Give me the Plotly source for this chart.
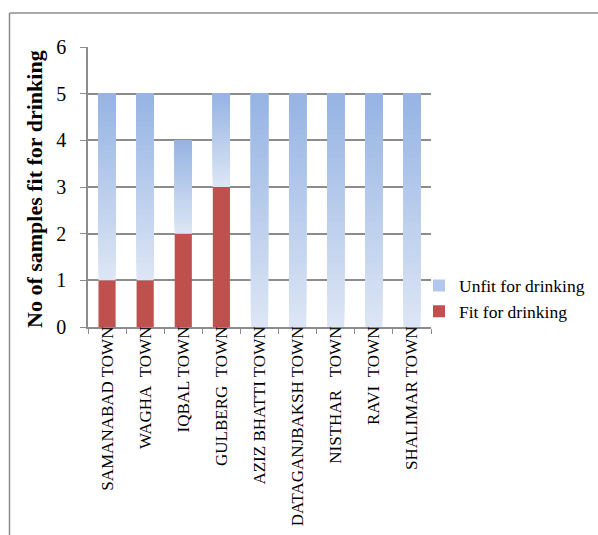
import plotly.graph_objects as go

# Sample counts per town
towns = [
    "SAMANABAD TOWN",
    "WAGHA\u00a0\u00a0TOWN",
    "IQBAL TOWN",
    "GULBERG\u00a0\u00a0TOWN",
    "AZIZ BHATTI TOWN",
    "DATAGANJBAKSH TOWN",
    "NISTHAR\u00a0\u00a0\u00a0TOWN",
    "RAVI\u00a0\u00a0TOWN",
    "SHALIMAR TOWN",
]
fit = [1, 1, 2, 3, 0, 0, 0, 0, 0]
unfit = [4, 4, 2, 2, 5, 5, 5, 5, 5]

y_ticks = [0, 1, 2, 3, 4, 5, 6]

# Styling
FONT = "Liberation Serif"
RED = "#C0504D"
BLUE_TOP = (0x95, 0xB3, 0xE3)
BLUE_BOTTOM = (0xDD, 0xE6, 0xF5)
GRID = "#8C8C8C"
BAR_WIDTH = 0.45
N_STEPS = 40

# Figure geometry (pixels)
W, H = 598, 535
L, R, T, B = 88, 167, 46.5, 207.5
plot_w = W - L - R
plot_h = H - T - B


def px_to_paper_x(px):
    return (px - L) / plot_w


def px_to_paper_y(py):
    return (H - B - py) / plot_h


def blend(t):
    c = [round(BLUE_BOTTOM[i] + (BLUE_TOP[i] - BLUE_BOTTOM[i]) * t) for i in range(3)]
    return "rgb({},{},{})".format(*c)


fig = go.Figure()

# Fit for drinking (solid red, bottom of each stack)
fig.add_trace(go.Bar(
    x=towns, y=fit, base=[0] * len(fit),
    name="Fit for drinking",
    marker=dict(color=RED, line=dict(width=0)),
    width=BAR_WIDTH, legendrank=2,
))

# Unfit for drinking: vertical gradient per segment, light at the bottom
# of the segment and darker toward its top. Each layer starts a bit higher
# and runs to the top of the segment, painted over the previous one.
for k in range(N_STEPS):
    frac = k / N_STEPS
    bases = [f + u * frac for f, u in zip(fit, unfit)]
    heights = [u * (1 - frac) for u in unfit]
    fig.add_trace(go.Bar(
        x=towns, y=heights, base=bases,
        name="Unfit for drinking",
        marker=dict(color=blend((k + 0.5) / N_STEPS), line=dict(width=0)),
        width=BAR_WIDTH,
        showlegend=False, legendgroup="unfit", hoverinfo="skip",
    ))

# Legend entry for the gradient series
fig.add_trace(go.Bar(
    x=[towns[0]], y=[0], base=[0],
    name="Unfit for drinking",
    marker=dict(color=blend(0.6), line=dict(width=0)),
    width=BAR_WIDTH, legendgroup="unfit", legendrank=1,
    showlegend=True, hoverinfo="skip",
))

fig.update_layout(
    width=W, height=H,
    margin=dict(l=L, r=R, t=T, b=B, pad=0, autoexpand=False),
    barmode="overlay",
    plot_bgcolor="white", paper_bgcolor="white",
    font=dict(family=FONT, color="black"),
    showlegend=True,
    legend=dict(
        x=px_to_paper_x(419), y=px_to_paper_y(299),
        xanchor="left", yanchor="middle",
        font=dict(family=FONT, size=17.5, color="black"),
        traceorder="normal", itemwidth=30, tracegroupgap=0,
        bgcolor="rgba(0,0,0,0)",
    ),
    xaxis=dict(
        type="category",
        automargin=False,
        tickangle=-90,
        tickfont=dict(family=FONT, size=17, color="black"),
        showline=True, linecolor=GRID, linewidth=1.5,
        ticks="outside", tickson="boundaries", ticklen=5, tickcolor=GRID,
        ticklabelstandoff=-9,
        showgrid=False,
    ),
    yaxis=dict(
        range=[0, 6],
        automargin=False,
        tickvals=y_ticks,
        tickfont=dict(family=FONT, size=20, color="black"),
        showline=True, linecolor=GRID, linewidth=1.5,
        ticks="outside", ticklen=6, tickcolor=GRID,
        ticklabelstandoff=10,
        showgrid=True, gridcolor=GRID, gridwidth=1.5,
        zeroline=False,
    ),
    annotations=[dict(
        text="<b>No of samples fit for drinking</b>",
        xref="paper", yref="paper",
        x=px_to_paper_x(35), y=px_to_paper_y(189),
        xanchor="center", yanchor="middle",
        textangle=-90, showarrow=False,
        font=dict(family=FONT, size=22, color="black"),
    )],
    shapes=[
        dict(type="line", xref="paper", yref="paper",
             x0=px_to_paper_x(9.5), x1=px_to_paper_x(598),
             y0=px_to_paper_y(12.5), y1=px_to_paper_y(12.5),
             line=dict(color="#8C8C8C", width=1.5)),
        dict(type="line", xref="paper", yref="paper",
             x0=px_to_paper_x(9.5), x1=px_to_paper_x(9.5),
             y0=px_to_paper_y(12.5), y1=px_to_paper_y(540),
             line=dict(color="#8C8C8C", width=1.5)),
    ],
)

fig.write_html("out.html")
